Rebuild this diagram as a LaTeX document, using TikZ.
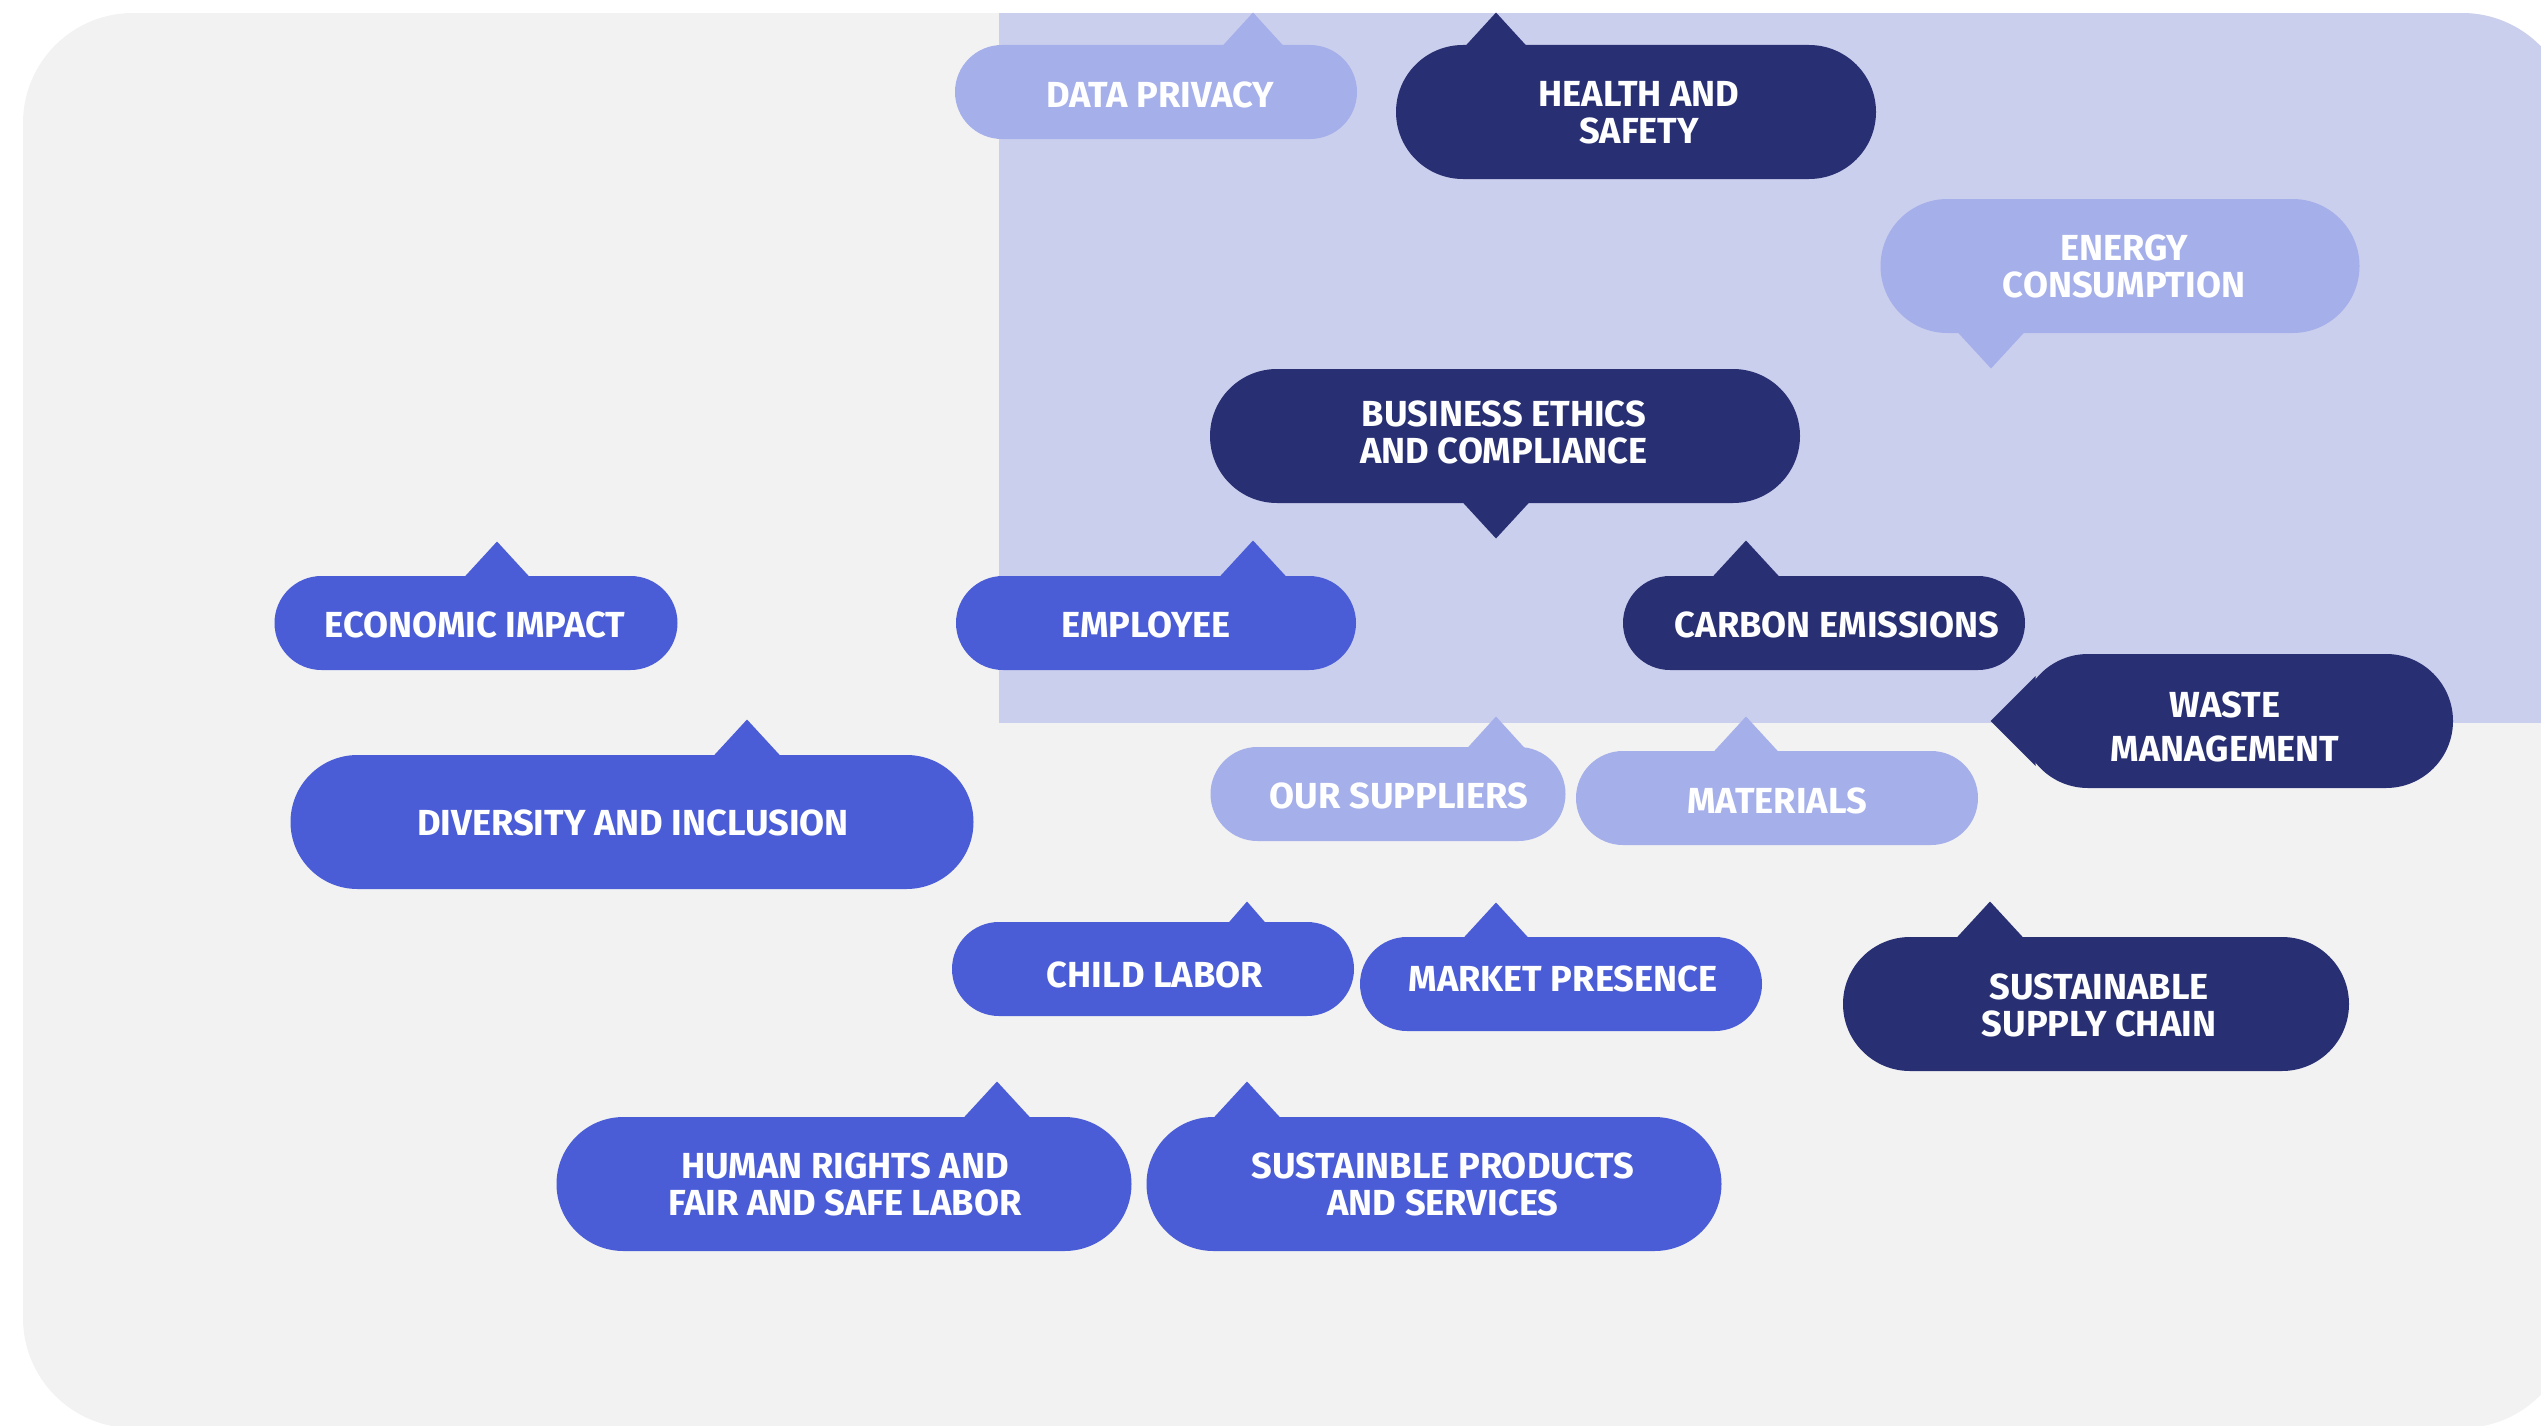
\documentclass[tikz,border=0pt]{standalone}
\usepackage{fontspec}
\setmainfont{Fira Sans}
\definecolor{bggrey}{HTML}{F2F2F2}
\definecolor{lav}{HTML}{CBCFEE}
\definecolor{lightc}{HTML}{A5AFEA}
\definecolor{midc}{HTML}{4A5DD6}
\definecolor{darkc}{HTML}{283073}
\newcommand\tipup[4]{\fill[#1] (#3,0 |- #2.north) ++(-#4,3) -- ++(#4,-#4-3) -- ++(#4,#4+3) -- cycle;}
\newcommand\tipdown[4]{\fill[#1] (#3,0 |- #2.south) ++(-#4,-3) -- ++(#4,#4+3) -- ++(#4,-#4-3) -- cycle;}
\begin{document}
\begin{tikzpicture}[x=0.4pt,y=-0.4pt,
  bub/.style={rectangle, inner sep=0pt},
  one/.style={bub, minimum height=37.6pt, rounded corners=18.8pt},
  two/.style={bub, minimum height=53.6pt, rounded corners=26.8pt},
  w/.style={minimum width=#1*0.4pt},
  txt/.style={inner sep=0pt, text=white, align=center,
    font=\fontsize{14.5}{14.8}\selectfont\bfseries}]
\useasboundingbox (0,0) rectangle (2541,1426);
\begin{scope}
  \clip (0,0) rectangle (2541,1426);
  \fill[bggrey, rounded corners=44pt] (23,13) rectangle (2572,1428);
\end{scope}
\begin{scope}
  \clip (999,0) rectangle (2541,722);
  \fill[lav, rounded corners=44pt] (700,13) rectangle (2572,1000);
\end{scope}

% callout bodies
\node[one, fill=lightc, w=402] (dp) at (1156,92) {};
\node[two, fill=darkc, w=480] (hs) at (1636,112) {};
\node[two, fill=lightc, w=479] (ec) at (2120,266) {};
\node[two, fill=darkc, w=590] (be) at (1505,436) {};
\node[one, fill=midc, w=403] (eco) at (476,623) {};
\node[one, fill=midc, w=400] (emp) at (1156,623) {};
\node[one, fill=darkc, w=402] (ce) at (1824,623) {};
\node[two, fill=darkc, w=432] (wm) at (2237,721) {};
\node[two, fill=midc, w=683] (di) at (632,822) {};
\node[one, fill=lightc, w=355] (os) at (1388,794) {};
\node[one, fill=lightc, w=402] (mat) at (1777,798) {};
\node[one, fill=midc, w=402] (cl) at (1153,969) {};
\node[one, fill=midc, w=402] (mp) at (1561,984) {};
\node[two, fill=darkc, w=506] (ssc) at (2096,1004) {};
\node[two, fill=midc, w=575] (hr) at (844,1184) {};
\node[two, fill=midc, w=575] (sps) at (1434,1184) {};

% pointers
\tipup{lightc}{dp}{1253}{32}
\tipup{darkc}{hs}{1496}{32}
\tipdown{lightc}{ec}{1991}{35}
\tipdown{darkc}{be}{1496}{35}
\tipup{midc}{eco}{497}{34}
\tipup{midc}{emp}{1253}{35}
\tipup{darkc}{ce}{1746}{35}
\fill[darkc] (wm.west) ++(-30,0) -- ++(45,-45) -- ++(0,90) -- cycle;
\tipup{midc}{di}{747}{35}
\tipup{lightc}{os}{1496}{30}
\tipup{lightc}{mat}{1746}{34}
\tipup{midc}{cl}{1247}{20}
\tipup{midc}{mp}{1496}{34}
\tipup{darkc}{ssc}{1990}{35}
\tipup{midc}{hr}{997}{35}
\tipup{midc}{sps}{1247}{35}

% labels
\node[txt] (dpT) at (1160,94.5) {DATA PRIVACY};
\node[txt] (hsT) at (1639,113) {HEALTH AND\\SAFETY};
\node[txt] (ecT) at (2124,266) {ENERGY\\CONSUMPTION};
\node[txt] (beT) at (1504,432) {BUSINESS ETHICS\\AND COMPLIANCE};
\node[txt] (ecoT) at (475,625) {ECONOMIC IMPACT};
\node[txt] (empT) at (1146,625) {EMPLOYEE};
\node[txt] (ceT) at (1837,624.5) {CARBON EMISSIONS};
\node[txt, font=\fontsize{14.5}{17.6}\selectfont\bfseries] (wmT) at (2225,726.5) {WASTE\\MANAGEMENT};
\node[txt] (diT) at (633,823) {DIVERSITY AND INCLUSION};
\node[txt] (osT) at (1399,795.5) {OUR SUPPLIERS};
\node[txt] (matT) at (1777,800.5) {MATERIALS};
\node[txt] (clT) at (1155,974.5) {CHILD LABOR};
\node[txt] (mpT) at (1563,978.5) {MARKET PRESENCE};
\node[txt] (sscT) at (2099,1005) {SUSTAINABLE\\SUPPLY CHAIN};
\node[txt] (hrT) at (845,1184.5) {HUMAN RIGHTS AND\\FAIR AND SAFE LABOR};
\node[txt] (spsT) at (1443,1184.5) {SUSTAINBLE PRODUCTS\\AND SERVICES};
\end{tikzpicture}
\end{document}
